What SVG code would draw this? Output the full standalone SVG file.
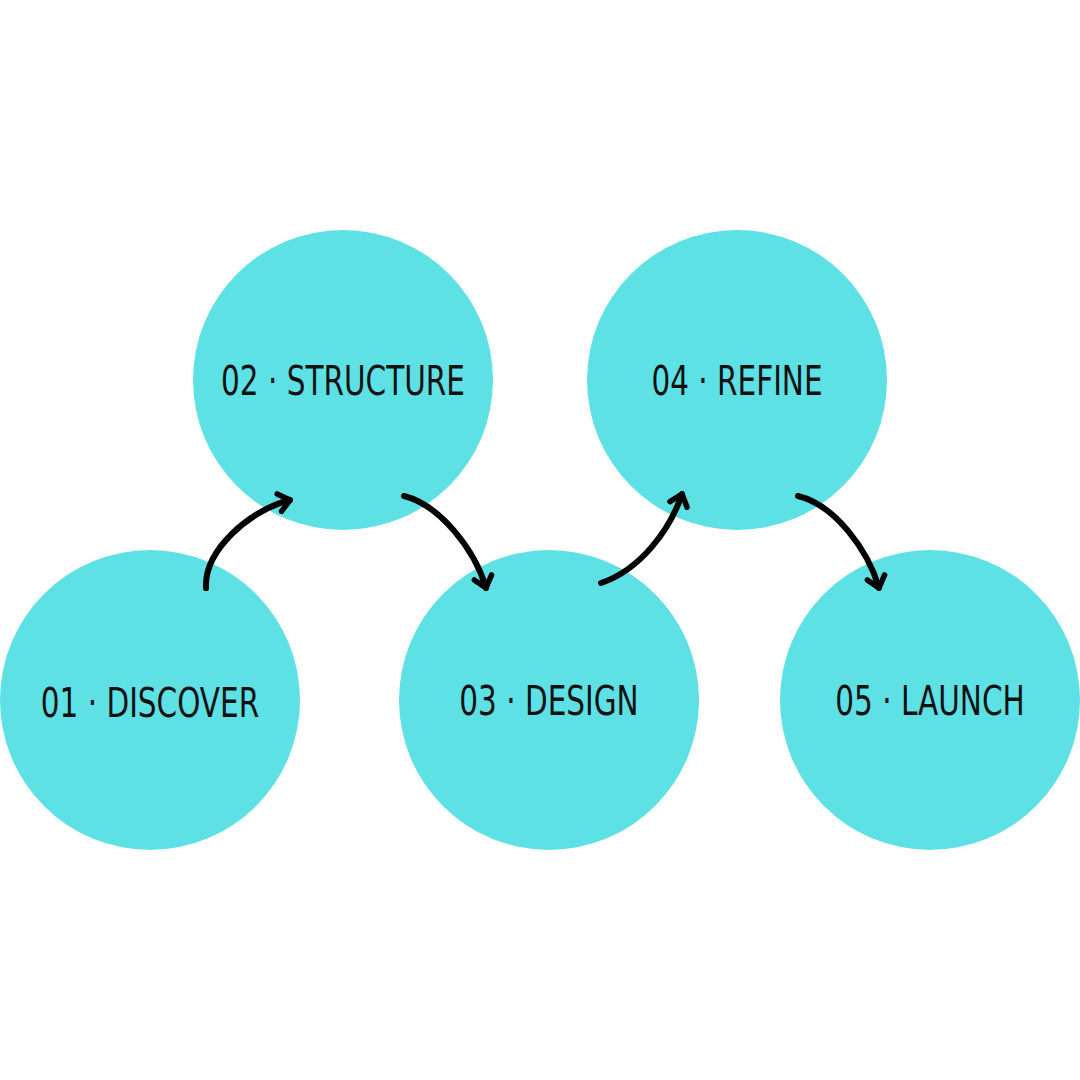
<svg xmlns="http://www.w3.org/2000/svg" width="1080" height="1080" viewBox="0 0 1080 1080">
<style>
.n{fill:#5ee1e5}
.t{font-family:"DejaVu Sans",sans-serif;font-stretch:condensed;font-size:40px;fill:#111;text-anchor:middle}
.c{fill:none;stroke:#000;stroke-width:6;stroke-linecap:round;marker-end:url(#a)}
</style>
<defs><marker id="a" viewBox="-14 -12 18 24" markerWidth="18" markerHeight="24" markerUnits="userSpaceOnUse" orient="auto" refX="0" refY="0"><path d="M-11,-9 L0,0 L-11,9" fill="none" stroke="#000" stroke-width="5.5" stroke-linecap="round" stroke-linejoin="round"/></marker></defs>
<rect width="1080" height="1080" fill="#fff"/>
<g id="n2"><circle class="n" cx="343" cy="380" r="150"/><text class="t" x="343" y="395" transform="translate(343 0) scale(0.82 1) translate(-343 0)">02 · STRUCTURE</text></g>
<g id="n4"><circle class="n" cx="737" cy="380" r="150"/><text class="t" x="737" y="395" transform="translate(737 0) scale(0.82 1) translate(-737 0)">04 · REFINE</text></g>
<g id="n1"><circle class="n" cx="150" cy="700" r="150"/><text class="t" x="150" y="717" transform="translate(150 0) scale(0.82 1) translate(-150 0)">01 · DISCOVER</text></g>
<g id="n3"><circle class="n" cx="549" cy="700" r="150"/><text class="t" x="549" y="715" transform="translate(549 0) scale(0.82 1) translate(-549 0)">03 · DESIGN</text></g>
<g id="n5"><circle class="n" cx="930" cy="700" r="150"/><text class="t" x="930" y="715" transform="translate(930 0) scale(0.82 1) translate(-930 0)">05 · LAUNCH</text></g>
<g id="connectors">
<path class="c" d="M206,588 C204,550 250,510 290,500"/>
<path class="c" d="M404,496 C440,505 475,550 486,588"/>
<path class="c" d="M601,583 C640,570 670,530 682,494"/>
<path class="c" d="M798,496 C835,505 868,550 879,588"/>
</g>
</svg>
